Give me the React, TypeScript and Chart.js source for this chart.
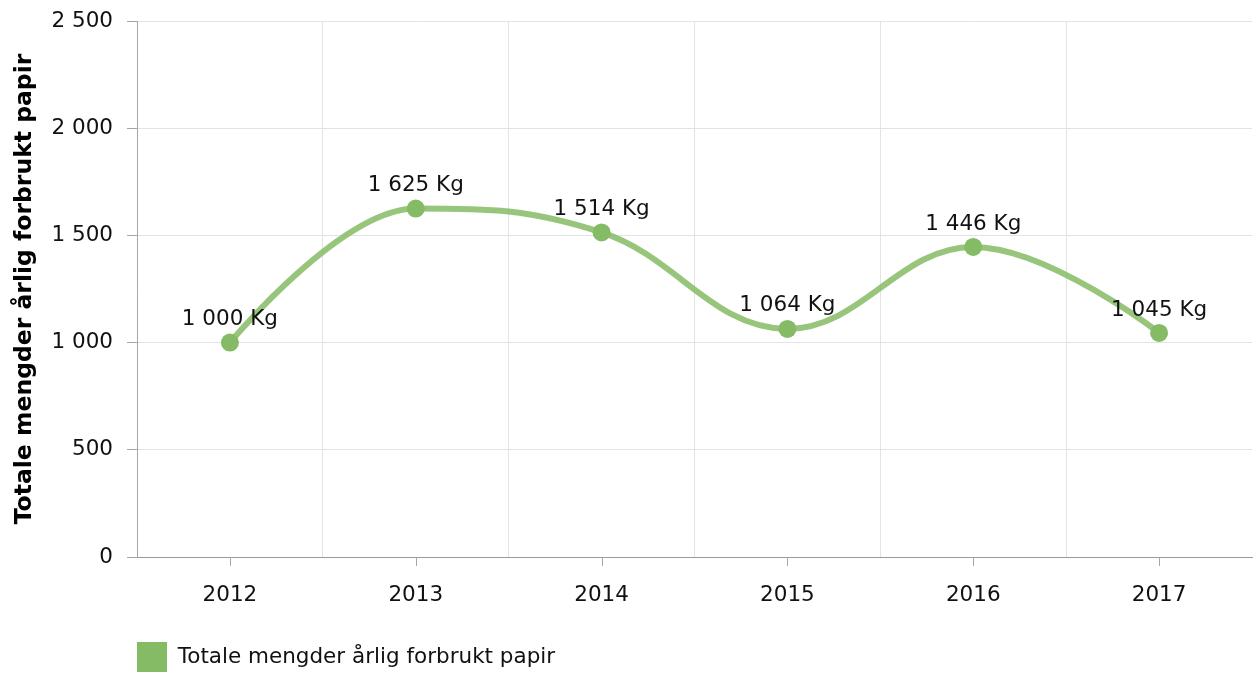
import React, { useEffect, useRef } from "react";
import { Chart, registerables } from "chart.js";

Chart.register(...registerables);

const categories = ["2012", "2013", "2014", "2015", "2016", "2017"];
const seriesName = "Totale mengder årlig forbrukt papir";
const values = [1000, 1625, 1514, 1064, 1446, 1045];
const yTicks = [0, 500, 1000, 1500, 2000, 2500];

const FONT = "'DejaVu Sans', Verdana, sans-serif";
const fmt = (v: number) => String(v).replace(/\B(?=(\d{3})+(?!\d))/g, " ");

// Spline smoothing (control points at 1/2.5 of neighbour distance, clamped to avoid false extremes)
const splinePlugin = {
  id: "smoothSpline",
  beforeDatasetsDraw(chart: any) {
    const meta = chart.getDatasetMeta(0);
    const line = meta.dataset;
    if (line && line.updateControlPoints) line.updateControlPoints(chart.chartArea, "x");
    const pts = meta.data;
    const smoothing = 1.5;
    const denom = smoothing + 1;
    pts.forEach((p: any, i: number) => {
      p.cp1x = p.x; p.cp1y = p.y; p.cp2x = p.x; p.cp2y = p.y;
      if (i > 0 && i < pts.length - 1) {
        const last = pts[i - 1];
        const next = pts[i + 1];
        const lcx = (smoothing * p.x + last.x) / denom;
        let lcy = (smoothing * p.y + last.y) / denom;
        const rcx = (smoothing * p.x + next.x) / denom;
        let rcy = (smoothing * p.y + next.y) / denom;
        let corr = 0;
        if (rcx !== lcx) corr = ((rcy - lcy) * (rcx - p.x)) / (rcx - lcx) + p.y - rcy;
        lcy += corr; rcy += corr;
        if (lcy > last.y && lcy > p.y) { lcy = Math.max(last.y, p.y); rcy = 2 * p.y - lcy; }
        else if (lcy < last.y && lcy < p.y) { lcy = Math.min(last.y, p.y); rcy = 2 * p.y - lcy; }
        if (rcy > next.y && rcy > p.y) { rcy = Math.max(next.y, p.y); lcy = 2 * p.y - rcy; }
        else if (rcy < next.y && rcy < p.y) { rcy = Math.min(next.y, p.y); lcy = 2 * p.y - rcy; }
        p.cp1x = lcx; p.cp1y = lcy; p.cp2x = rcx; p.cp2y = rcy;
      }
    });
    if (line) line._path = undefined;
  },
};

const centerTicksPlugin = {
  id: "centerTicks",
  afterDraw(chart: any) {
    const xs = chart.scales.x;
    const ctx = chart.ctx;
    ctx.save();
    ctx.strokeStyle = "#a6a6a6";
    ctx.lineWidth = 1;
    categories.forEach((_, i) => {
      const px = Math.round(xs.getPixelForValue(i)) + 0.5;
      ctx.beginPath();
      ctx.moveTo(px, xs.top);
      ctx.lineTo(px, xs.top + 9);
      ctx.stroke();
    });
    ctx.restore();
  },
};

const dataLabelPlugin = {
  id: "dataLabels",
  afterDatasetsDraw(chart: any) {
    const ctx = chart.ctx;
    const meta = chart.getDatasetMeta(0);
    ctx.save();
    ctx.font = `21.5px ${FONT}`;
    ctx.fillStyle = "#111";
    ctx.textAlign = "center";
    ctx.textBaseline = "middle";
    meta.data.forEach((pt: any, i: number) => {
      ctx.fillText(`${fmt(values[i])} Kg`, pt.x, pt.y - 23);
    });
    ctx.restore();
  },
};

export default function App() {
  const ref = useRef<HTMLCanvasElement>(null);
  useEffect(() => {
    document.body.style.overflow = "hidden";
    Chart.defaults.font.family = FONT;
    Chart.defaults.font.size = 21.5;
    Chart.defaults.color = "#222";
    const chart = new Chart(ref.current!, {
      type: "line",
      data: {
        labels: categories,
        datasets: [
          {
            label: seriesName,
            data: values,
            borderColor: "rgba(133,187,101,0.85)",
            backgroundColor: "#85bb65",
            borderWidth: 6,
            tension: 0.4,
            pointRadius: 9,
            pointBorderWidth: 0,
            pointBackgroundColor: "#85bb65",
            pointBorderColor: "#85bb65",
            fill: false,
          },
        ],
      },
      options: {
        animation: false,
        responsive: false,
        layout: { autoPadding: false, padding: { top: 21, right: 3, left: 0, bottom: 0 } },
        plugins: {
          tooltip: { enabled: false },
          legend: {
            position: "bottom",
            align: "start",
            fullSize: false,
            labels: {
              boxWidth: 30,
              boxHeight: 30,
              padding: 0,
              color: "#111",
              font: { size: 21.5, family: FONT },
              generateLabels: (c: any) =>
                Chart.defaults.plugins.legend.labels
                  .generateLabels(c)
                  .map((l: any) => ({ ...l, lineWidth: 0, strokeStyle: "rgba(0,0,0,0)", fillStyle: "#85bb65" })),
            },
          },
        },
        scales: {
          x: {
            offset: true,
            grid: {
              offset: true,
              color: (c: any) => (c.index === undefined ? "rgba(0,0,0,0)" : "#e3e3e3"),
              tickColor: "rgba(0,0,0,0)",
              tickLength: 9,
            },
            border: { color: "#999999", width: 1 },
            ticks: { padding: 17, color: "#111", font: { size: 21.5 }, maxRotation: 0 },
            afterFit: (s: any) => {
              s.height = 85;
              s.paddingLeft = 0;
              s.paddingRight = 0;
              s.paddingTop = 0;
              s.paddingBottom = 0;
            },
          },
          y: {
            min: 0,
            max: 2500,
            afterBuildTicks: (s: any) => {
              s.ticks = yTicks.map((v) => ({ value: v }));
            },
            grid: { color: "#e3e3e3", tickColor: "#a6a6a6", tickLength: 10 },
            border: { color: "#a6a6a6", width: 1 },
            ticks: {
              padding: 14,
              color: "#111",
              font: { size: 21.5 },
              callback: (v: any) => fmt(Number(v)),
            },
            title: {
              display: true,
              text: seriesName,
              color: "#000",
              font: { size: 23.5, weight: "bold", family: FONT },
              padding: { top: 11, bottom: 0 },
            },
            afterFit: (s: any) => {
              s.width = 137;
              s.paddingLeft = 0;
              s.paddingRight = 0;
              s.paddingTop = 0;
              s.paddingBottom = 0;
            },
          },
        },
      },
      plugins: [splinePlugin, centerTicksPlugin, dataLabelPlugin],
    });
    return () => chart.destroy();
  }, []);
  return (
    <div style={{ position: "fixed", left: 0, top: 0, width: 1255, height: 682, overflow: "hidden" }}>
      <canvas ref={ref} width={1255} height={682} style={{ display: "block" }} />
    </div>
  );
}
